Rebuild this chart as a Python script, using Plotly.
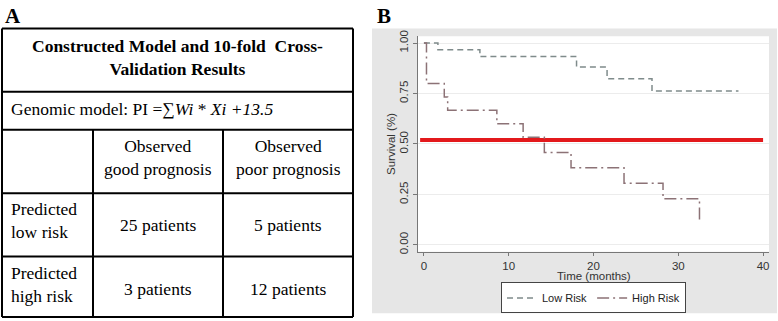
import plotly.graph_objects as go

W, H = 778, 321

# ---------------- data ----------------
table_title = "Constructed Model and 10-fold  Cross-<br>Validation Results"
model_text = "Genomic model: PI =∑<i>Wi</i> * <i>Xi +13.5</i>"
col_headers = ["Observed<br>good prognosis", "Observed<br>poor prognosis"]
row_headers = ["Predicted<br>low risk", "Predicted<br>high risk"]
cell_values = [["25 patients", "5 patients"], ["3 patients", "12 patients"]]

low_t = [0, 1.65, 6.6, 18.0, 21.6, 26.9, 37.1]
low_s = [1.0, 0.967, 0.933, 0.881, 0.823, 0.762, 0.762]
high_t = [0, 0.3, 2.4, 2.8, 8.6, 11.7, 14.2, 17.35, 23.6, 28.2, 32.5]
high_s = [1.0, 0.8, 0.733, 0.667, 0.6, 0.533, 0.458, 0.382, 0.305, 0.229, 0.114]
median_line_t = [-0.45, 40]
median_line_s = [0.52, 0.52]

x_ticks = [0, 10, 20, 30, 40]
y_ticks = [0.0, 0.25, 0.5, 0.75, 1.0]
y_ticklabels = ["0.00", "0.25", "0.50", "0.75", "1.00"]


def px(x):
    return x / W


def py(y):
    return 1 - y / H


fig = go.Figure()

fig.add_trace(go.Scatter(x=median_line_t, y=median_line_s, mode="lines",
                         line=dict(color="#e3191c", width=4), showlegend=False,
                         hoverinfo="skip"))
fig.add_trace(go.Scatter(x=low_t, y=low_s, mode="lines", name="Low Risk",
                         line=dict(color="#7f8b8b", width=1.5, dash="6px,4px", shape="hv")))
fig.add_trace(go.Scatter(x=high_t, y=high_s, mode="lines", name="High Risk",
                         line=dict(color="#8c7276", width=1.5, dash="12px,4px,2px,4px", shape="hv")))

shapes = []
# gray panel B background
shapes.append(dict(type="rect", xref="paper", yref="paper", x0=px(372), x1=px(777),
                   y0=py(315), y1=py(23), fillcolor="#e6e6e6", line=dict(width=0), layer="below"))
# white plotting area
shapes.append(dict(type="rect", xref="paper", yref="paper", x0=px(418), x1=px(769),
                   y0=py(252), y1=py(31), fillcolor="white", line=dict(width=0), layer="below"))

# table lines
lw = 2
def hline(y, x0=2, x1=353):
    shapes.append(dict(type="line", xref="paper", yref="paper", x0=px(x0), x1=px(x1),
                       y0=py(y), y1=py(y), line=dict(color="black", width=lw)))

def vline(x, y0, y1):
    shapes.append(dict(type="line", xref="paper", yref="paper", x0=px(x), x1=px(x),
                       y0=py(y0), y1=py(y1), line=dict(color="black", width=lw)))

for yy in [23, 88, 127, 192, 257, 319]:
    hline(yy)
vline(2, 23, 319)
vline(353, 23, 319)
vline(93, 127, 319)
vline(223, 127, 319)

ann = []
serif = "Liberation Serif, Times New Roman, serif"
sans = "Liberation Sans, Arial, sans-serif"

def text(x, y, s, size=17.5, anchor="center", family=serif, color="black"):
    ann.append(dict(xref="paper", yref="paper", x=px(x), y=py(y), text=s, showarrow=False,
                    xanchor=anchor, yanchor="middle", align=anchor if anchor != "center" else "center",
                    font=dict(family=family, size=size, color=color)))

text(3, 10, "<b>A</b>", size=21, anchor="left")
text(375, 10, "<b>B</b>", size=21, anchor="left")
text(177.5, 53, "<b>" + table_title + "</b>")
text(9, 106, model_text, anchor="left")
text(158, 155, col_headers[0])
text(288, 155, col_headers[1])
text(9, 220, row_headers[0], anchor="left")
text(9, 286, row_headers[1], anchor="left")
text(158, 225, cell_values[0][0])
text(288, 225, cell_values[0][1])
text(158, 290, cell_values[1][0])
text(288, 290, cell_values[1][1])
ann.append(dict(xref="paper", yref="paper", x=px(593.5), y=py(270), text="Time (months)",
                showarrow=False, xanchor="center", yanchor="top", borderpad=0,
                font=dict(family=sans, size=11.5, color="#333")))

axis_font = dict(family=sans, size=11.5, color="#333")

fig.update_layout(
    width=W, height=H,
    margin=dict(l=0, r=0, t=0, b=0),
    paper_bgcolor="white",
    plot_bgcolor="rgba(0,0,0,0)",
    shapes=shapes,
    annotations=ann,
    xaxis=dict(domain=[px(418), px(769)], range=[-0.7, 40.7], tickvals=x_ticks,
               showgrid=False, zeroline=False, showline=True, linecolor="#777", linewidth=1,
               ticks="outside", ticklen=3, tickcolor="#777", tickfont=axis_font),
    yaxis=dict(domain=[py(252), py(31)], range=[-0.034, 1.034], tickvals=y_ticks,
               ticktext=y_ticklabels, tickangle=-90,
               showgrid=True, gridcolor="#ececec", gridwidth=1, zeroline=False,
               showline=True, linecolor="#777", linewidth=1,
               ticks="outside", ticklen=4, tickcolor="#777", tickfont=axis_font,
               title=dict(text="Survival (%)", font=axis_font, standoff=0)),
    legend=dict(orientation="h", x=px(593.5), xanchor="center", y=py(283.5), yanchor="top",
                bgcolor="white", bordercolor="#444", borderwidth=1,
                font=dict(family=sans, size=11, color="#222"),
                itemwidth=30),
    showlegend=True,
)

fig.write_html("out.html", post_script="document.body.style.margin='0';",
               config={"displayModeBar": False})
